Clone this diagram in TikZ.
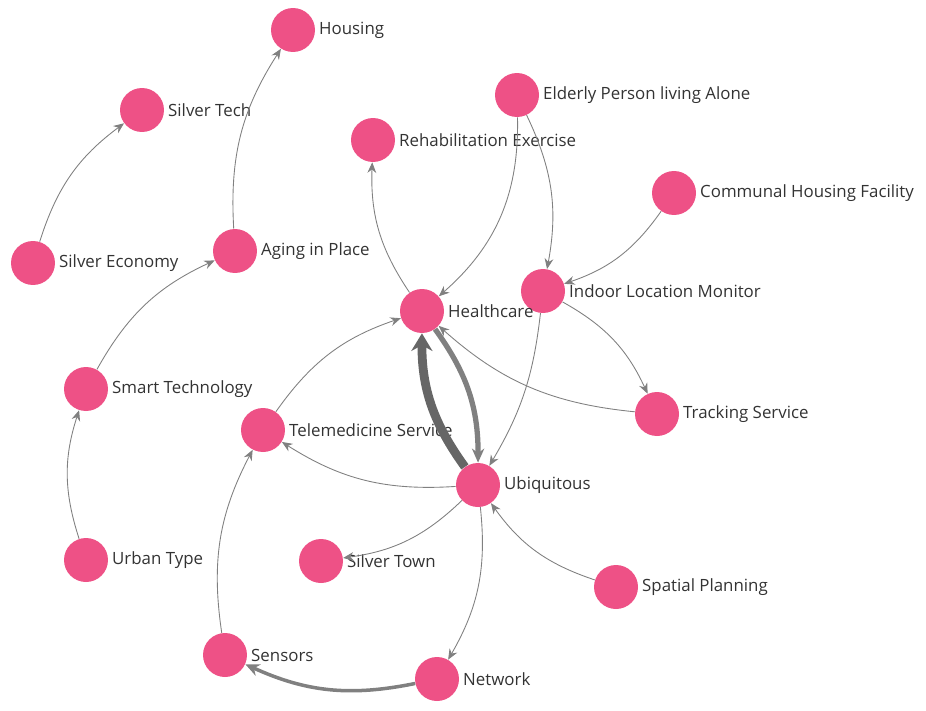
\documentclass[tikz,border=0pt]{standalone}
\usepackage{fontspec}
\setmainfont{Open Sans}
\usetikzlibrary{arrows.meta}
\definecolor{pk}{HTML}{EE5186}
\begin{document}
\begin{tikzpicture}[x=0.02cm,y=-0.02cm,
  v/.style={circle,fill=pk,minimum size=0.88cm,inner sep=0},
  lb/.style={anchor=west,text=black!80,font=\fontsize{9.6}{11}\selectfont},
  e/.style={draw=black!50,line width=0.5pt,-{Stealth[length=6pt,width=5pt]},bend left=18},
  te/.style={draw=black!50,line width=2pt,-{Stealth[length=8pt,width=7pt]},bend left=18}]
\useasboundingbox (0,0) rectangle (926,710);
\foreach \n/\x/\y/\t in {ho/293/30/Housing, st/142/110/Silver Tech, el/517/95/Elderly Person living Alone,
 re/373/140/Rehabilitation Exercise, co/674/193/Communal Housing Facility, se/33/263/Silver Economy,
 ag/235/251/Aging in Place, in/543/291/Indoor Location Monitor, he/422/311/Healthcare,
 sm/86/389/Smart Technology, tr/657/414/Tracking Service, te/263/430/Telemedicine Service,
 ub/478/485/Ubiquitous, ur/86/560/Urban Type, stn/321/561/Silver Town, sp/616/587/Spatial Planning,
 sn/225/655/Sensors, ne/437/679/Network}{
  \node[v] (\n) at (\x,\y) {};
  \node[lb] at (\x+20,\y) {\t};
}
\draw[e] (se) to (st);
\draw[e] (ag) to (ho);
\draw[e] (sm) to (ag);
\draw[e] (ur) to (sm);
\draw[e] (he) to (re);
\draw[e,bend left=25] (el) to (he);
\draw[e] (el) to (in);
\draw[e] (co) to (in);
\draw[e] (in) to (tr);
\draw[e,bend left=12] (in) to (ub);
\draw[e] (tr) to (he);
\draw[e] (te) to (he);
\draw[e] (ub) to (te);
\draw[draw=black!60,line width=5pt,-{Stealth[length=10pt,width=12pt]},bend left=18] (ub) to (he);
\draw[te,line width=3pt] (he) to (ub);
\draw[e] (ub) to (stn);
\draw[e] (sp) to (ub);
\draw[e] (ub) to (ne);
\draw[e] (sn) to (te);
\draw[te] (ne) to (sn);
\end{tikzpicture}
\end{document}
